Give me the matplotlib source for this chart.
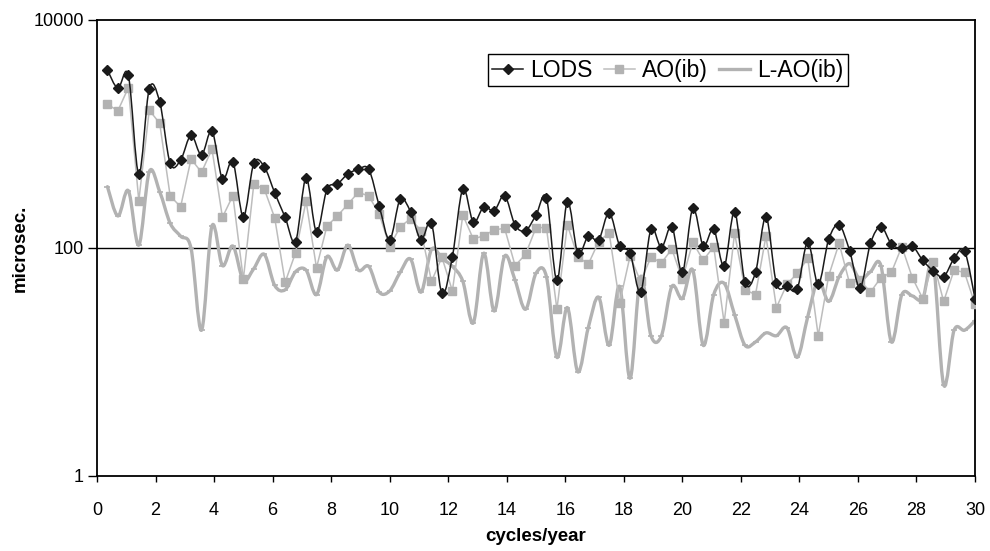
import numpy as np
import matplotlib
matplotlib.use('Agg')
import matplotlib.pyplot as plt
from matplotlib.path import Path
from matplotlib.patches import PathPatch
from matplotlib.lines import Line2D
from matplotlib.ticker import NullLocator

plt.rcParams['font.family'] = ['Liberation Sans', 'DejaVu Sans']

# frequency grid, cycles/year
freq = np.arange(1, 85) * 30 / 84

# amplitudes, microsec.
lods = [3640, 2520, 3270, 446, 2500, 1910, 553, 591, 975, 654,
        1060, 403, 571, 188, 553, 517, 305, 186, 114, 411,
        139, 327, 364, 446, 490, 490, 234, 118, 267, 208,
        118, 165, 40, 84, 330, 169, 230, 212, 288, 159,
        142, 194, 276, 52, 255, 90, 127, 118, 204, 105,
        90, 41, 146, 101, 154, 61, 223, 105, 146, 69,
        208, 50, 61, 188, 49, 46, 44, 113, 48, 119,
        159, 95, 45, 110, 154, 108, 99, 104, 78, 63,
        56, 81, 94, 36]

ao_ib = [1820, 1600, 2550, 260, 1620, 1240, 286, 230, 604, 461,
         738, 186, 288, 53, 362, 330, 184, 50, 91, 258,
         67, 156, 191, 242, 308, 286, 199, 103, 153, 181,
         142, 51, 83, 42, 195, 120, 128, 144, 149, 70,
         88, 151, 151, 29, 159, 84, 72, 114, 136, 33,
         85, 51, 83, 74, 98, 53, 112, 78, 103, 22,
         135, 43, 39, 127, 30, 48, 60, 81, 17, 57,
         110, 49, 52, 41, 55, 61, 103, 55, 36, 76,
         34, 64, 61, 32]

l_ao_ib = [345, 191, 318, 106, 467, 312, 165, 127, 99, 19,
           156, 70, 104, 52, 66, 88, 47, 43, 62, 64,
           39, 84, 64, 106, 64, 69, 41, 42, 61, 80,
           41, 97, 81, 69, 51, 22, 90, 28, 85, 52,
           29, 60, 56, 11, 30, 8.2, 20, 37, 14, 46,
           7.2, 56, 17, 17, 46, 36, 64, 14, 39, 49,
           26, 14, 15, 18, 17, 20, 11, 25, 52, 34,
           56, 73, 53, 62, 70, 15, 39, 38, 36, 73,
           6.3, 19, 19, 23]

BLACK = '#1a1a1a'
GREY = '#b2b2b2'
LIGHT = '#bdbdbd'


def smooth_path(x, y):
    # excel-like smoothed line: cubic bezier through the points (x, log y)
    pts = np.column_stack([np.asarray(x, float), np.log10(np.asarray(y, float))])
    n = len(pts)
    verts = [pts[0]]
    codes = [Path.MOVETO]
    for i in range(n - 1):
        p0 = pts[max(i - 1, 0)]
        p1 = pts[i]
        p2 = pts[i + 1]
        p3 = pts[min(i + 2, n - 1)]
        verts += [p1 + (p2 - p0) / 6, p2 - (p3 - p1) / 6, p2]
        codes += [Path.CURVE4] * 3
    verts = np.array(verts)
    verts[:, 1] = 10 ** verts[:, 1]
    return Path(verts, codes)


fig = plt.figure(figsize=(9.9, 5.51), dpi=100)
ax = fig.add_axes([97 / 990, 1 - 476 / 551, 878 / 990, 456 / 551])
ax.set_yscale('log')

ax.axhline(100, color='black', lw=1.0, zorder=1)

# L-AO(ib): thick smoothed grey line with dash markers
ax.add_patch(PathPatch(smooth_path(freq, l_ao_ib), fill=False, edgecolor=GREY,
                       lw=2.4, capstyle='round', joinstyle='round', zorder=2))
ax.plot(freq, l_ao_ib, ls='none', marker='_', ms=5, mew=1.2, color=GREY, zorder=2)

# AO(ib): light grey straight line with squares
ax.plot(freq, ao_ib, color=LIGHT, lw=1.1, marker='s', ms=6,
        mfc=GREY, mec=GREY, zorder=3)

# LODS: black smoothed line with diamonds
ax.add_patch(PathPatch(smooth_path(freq, lods), fill=False, edgecolor=BLACK,
                       lw=1.1, zorder=4))
ax.plot(freq, lods, ls='none', marker='D', ms=4.6, color=BLACK, zorder=5)

ax.set_xlim(0, 30)
ax.set_ylim(1, 10000)
ax.set_xticks(range(0, 31, 2))
ax.set_yticks([1, 100, 10000])
ax.set_yticklabels(['1', '100', '10000'])
ax.yaxis.set_minor_locator(NullLocator())
ax.tick_params(axis='y', direction='out', length=6.5, width=1, labelsize=13, pad=3)
ax.tick_params(axis='x', direction='out', length=4.5, width=1, labelsize=13, pad=14)
for s in ax.spines.values():
    s.set_linewidth(1.3)
    s.set_color('black')

ax.set_xlabel('cycles/year', fontsize=13.5, fontweight='bold', labelpad=7)
ax.set_ylabel('microsec.', fontsize=13.5, fontweight='bold', labelpad=3)

handles = [
    Line2D([], [], color=BLACK, lw=1.1, marker='D', ms=4.6),
    Line2D([], [], color=LIGHT, lw=1.1, marker='s', ms=6, mfc=GREY, mec=GREY),
    Line2D([], [], color=GREY, lw=2.4),
]
leg = ax.legend(handles, ['LODS', 'AO(ib)', 'L-AO(ib)'], loc='upper left',
                bbox_to_anchor=(0.445, 0.925), ncol=3, fontsize=16.5,
                frameon=True, fancybox=False, edgecolor='black', framealpha=1,
                handlelength=1.35, handletextpad=0.3, columnspacing=0.5,
                borderpad=0.2, borderaxespad=0)
leg.get_frame().set_linewidth(1.0)

fig.savefig('out.png', dpi=100)
